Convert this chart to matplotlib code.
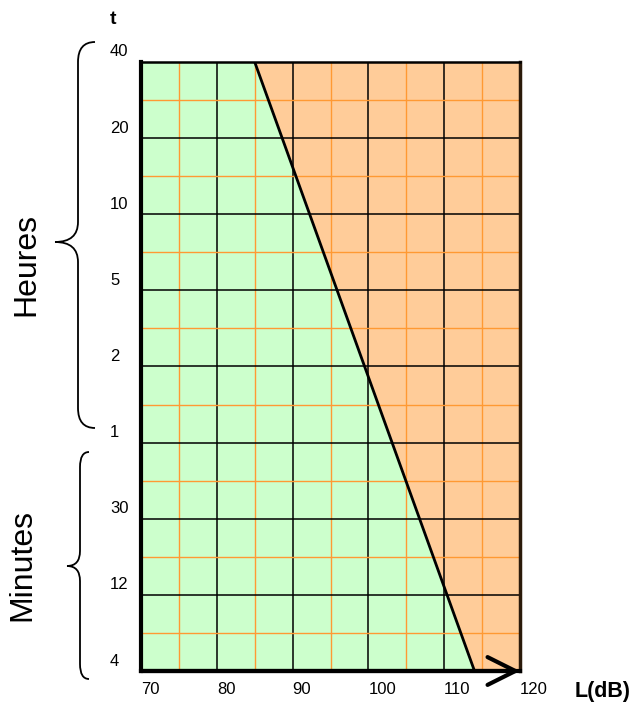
import matplotlib.pyplot as plt
from matplotlib.path import Path
from matplotlib.patches import PathPatch, Polygon
from matplotlib.transforms import offset_copy

# sound level axis (dB)
L_ticks = [70, 80, 90, 100, 110, 120]
L_minor = [75, 85, 95, 105, 115]
# exposure time rows, bottom to top (minutes then hours)
t_labels = ['4', '12', '30', '1', '2', '5', '10', '20', '40']
# limit line: level -> row index
limit_L = [85, 114]
limit_row = [8, 0]

plt.rcParams['font.family'] = ['Liberation Sans', 'DejaVu Sans']

W, H = 635, 708
fig = plt.figure(figsize=(W / 100, H / 100), dpi=100)
ax = fig.add_axes([141 / W, 1 - 671 / H, 379 / W, 609 / H])

x0, x1 = L_ticks[0], L_ticks[-1]
ytop = len(t_labels) - 1
ax.set_xlim(x0, x1)
ax.set_ylim(0, ytop)

# zones
safe = Polygon([(x0, 0), (x0, ytop), (limit_L[0], limit_row[0]), (limit_L[1], limit_row[1])],
               closed=True, facecolor='#ccffcc', edgecolor='none', zorder=1)
danger = Polygon([(limit_L[0], limit_row[0]), (x1, ytop), (x1, 0), (limit_L[1], limit_row[1])],
                 closed=True, facecolor='#ffcc99', edgecolor='none', zorder=1)
ax.add_patch(safe)
ax.add_patch(danger)

# grid
ax.set_xticks(L_ticks)
ax.set_xticks(L_minor, minor=True)
ax.set_yticks(range(len(t_labels)))
ax.set_yticks([i + 0.5 for i in range(len(t_labels) - 1)], minor=True)
ax.set_axisbelow(False)
ax.grid(which='minor', color='#ff9933', lw=1.0, zorder=2)
ax.grid(which='major', color='black', lw=1.1, zorder=2.2)
ax.tick_params(which='both', length=0, labelbottom=False, labelleft=False)

ax.plot(limit_L, limit_row, color='black', lw=2, zorder=3, solid_capstyle='butt')

for s in ['left', 'bottom']:
    ax.spines[s].set_linewidth(3)
ax.spines['top'].set_linewidth(1.8)
ax.spines['right'].set_linewidth(2.5)
ax.spines['right'].set_color('#2b1a0a')
for s in ax.spines.values():
    s.set_zorder(4)

# bottom arrow
ax.annotate('', xy=(x1, 0), xytext=(x0, 0), annotation_clip=False,
            arrowprops=dict(arrowstyle='->,head_length=2.0,head_width=1.0', lw=3,
                            color='black', shrinkA=0, shrinkB=0, mutation_scale=10))

# tick labels
ytr = offset_copy(ax.get_yaxis_transform(), fig=fig, y=10, units='dots')
for i, lab in enumerate(t_labels):
    ax.text(-31 / 379, i, lab, transform=ytr, ha='left', va='center', fontsize=12)
for v in L_ticks:
    ax.text(v, -19 / 609, str(v), transform=ax.get_xaxis_transform(),
            ha='left', va='center', fontsize=12)

fig.text(113 / W, 1 - 19 / H, 't', ha='center', va='center', fontsize=14, weight='bold')
fig.text(603 / W, 1 - 692 / H, 'L(dB)', ha='center', va='center', fontsize=15.5, weight='bold')


def brace(xe, xs, xt, y0, y1, ym, r):
    pts = [(xe, y0), (xs, y0), (xs, y0 + r), (xs, ym - r), (xs, ym), (xt, ym),
           (xs, ym), (xs, ym + r), (xs, y1 - r), (xs, y1), (xe, y1)]
    codes = [Path.MOVETO, Path.CURVE3, Path.CURVE3, Path.LINETO, Path.CURVE3, Path.CURVE3,
             Path.CURVE3, Path.CURVE3, Path.LINETO, Path.CURVE3, Path.CURVE3]
    pts = [(x / W, 1 - y / H) for x, y in pts]
    fig.patches.append(PathPatch(Path(pts, codes), transform=fig.transFigure,
                                 facecolor='none', edgecolor='black', lw=1.3))


brace(95, 78, 55, 42, 428, 242, 20)
brace(89, 80, 67, 452, 679, 566, 15)
fig.text(26 / W, 1 - 265 / H, 'Heures', rotation=90, ha='center', va='center', fontsize=23)
fig.text(22 / W, 1 - 565 / H, 'Minutes', rotation=90, ha='center', va='center', fontsize=23)

fig.savefig('out.png', dpi=100)
